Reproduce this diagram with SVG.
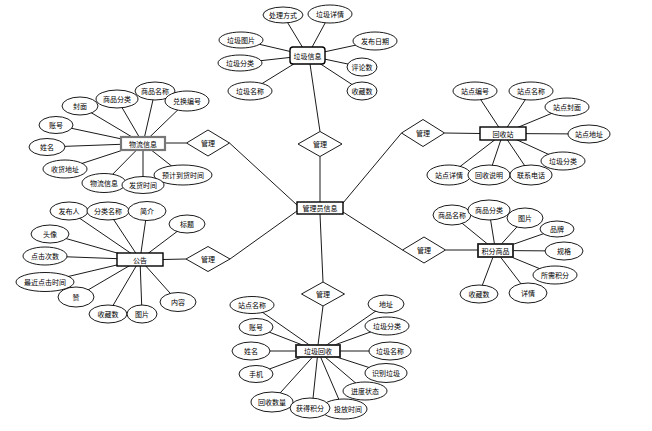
<svg xmlns="http://www.w3.org/2000/svg" width="652" height="431" viewBox="0 0 652 431">
<style>
.bg{fill:#fff}
line{stroke:#000;stroke-width:0.9}
ellipse{fill:#fff;stroke:#000;stroke-width:0.9}
.ent{fill:#fff;stroke:#000;stroke-width:1.4}
.ent2{fill:#fff;stroke:#777;stroke-width:2.2}
.ent3{fill:#fff;stroke:#222;stroke-width:1.8}
.rel{fill:#fff;stroke:#000;stroke-width:0.9}
text{font-family:"Noto Sans CJK SC","Noto Sans",sans-serif;font-size:7px;text-anchor:middle;dominant-baseline:central;fill:#000}
</style>
<rect class="bg" x="0" y="0" width="652" height="431"/>
<g id="connectors">
<line x1="310" y1="64" x2="320" y2="131.5"/>
<line x1="320" y1="156.5" x2="320" y2="202"/>
<line x1="165" y1="143" x2="186.5" y2="143"/>
<line x1="229.5" y1="143" x2="297" y2="205"/>
<line x1="163" y1="259.5" x2="186" y2="259"/>
<line x1="230" y1="259" x2="297" y2="211"/>
<line x1="480" y1="133.5" x2="444.5" y2="133"/>
<line x1="401.5" y1="133" x2="343" y2="203"/>
<line x1="478" y1="250" x2="445.5" y2="250"/>
<line x1="402.5" y1="250" x2="343" y2="212"/>
<line x1="320" y1="214" x2="323" y2="282"/>
<line x1="323" y1="306" x2="318" y2="345"/>
<line x1="283" y1="15" x2="307.5" y2="55.5"/>
<line x1="330" y1="14" x2="307.5" y2="55.5"/>
<line x1="241" y1="40" x2="307.5" y2="55.5"/>
<line x1="375" y1="41" x2="307.5" y2="55.5"/>
<line x1="240" y1="63" x2="307.5" y2="55.5"/>
<line x1="362" y1="67" x2="307.5" y2="55.5"/>
<line x1="250" y1="91" x2="307.5" y2="55.5"/>
<line x1="362" y1="91" x2="307.5" y2="55.5"/>
<line x1="80" y1="106" x2="143" y2="143.5"/>
<line x1="117" y1="99" x2="143" y2="143.5"/>
<line x1="155" y1="91" x2="143" y2="143.5"/>
<line x1="187" y1="101" x2="143" y2="143.5"/>
<line x1="56" y1="125" x2="143" y2="143.5"/>
<line x1="47" y1="147" x2="143" y2="143.5"/>
<line x1="65" y1="169" x2="143" y2="143.5"/>
<line x1="104" y1="183" x2="143" y2="143.5"/>
<line x1="143" y1="185" x2="143" y2="143.5"/>
<line x1="183" y1="175" x2="143" y2="143.5"/>
<line x1="69" y1="211" x2="140" y2="259.5"/>
<line x1="108" y1="211" x2="140" y2="259.5"/>
<line x1="147" y1="211" x2="140" y2="259.5"/>
<line x1="187" y1="224" x2="140" y2="259.5"/>
<line x1="50" y1="234" x2="140" y2="259.5"/>
<line x1="45" y1="256" x2="140" y2="259.5"/>
<line x1="45" y1="282" x2="140" y2="259.5"/>
<line x1="76" y1="297" x2="140" y2="259.5"/>
<line x1="108" y1="314" x2="140" y2="259.5"/>
<line x1="142" y1="314" x2="140" y2="259.5"/>
<line x1="178" y1="302" x2="140" y2="259.5"/>
<line x1="475" y1="91" x2="503" y2="133.5"/>
<line x1="531" y1="91" x2="503" y2="133.5"/>
<line x1="567" y1="107" x2="503" y2="133.5"/>
<line x1="589" y1="134" x2="503" y2="133.5"/>
<line x1="563" y1="161" x2="503" y2="133.5"/>
<line x1="449" y1="175" x2="503" y2="133.5"/>
<line x1="489" y1="175" x2="503" y2="133.5"/>
<line x1="531" y1="175" x2="503" y2="133.5"/>
<line x1="452" y1="215" x2="495.5" y2="250.5"/>
<line x1="489" y1="210" x2="495.5" y2="250.5"/>
<line x1="525" y1="218" x2="495.5" y2="250.5"/>
<line x1="557" y1="229" x2="495.5" y2="250.5"/>
<line x1="564" y1="251" x2="495.5" y2="250.5"/>
<line x1="555" y1="275" x2="495.5" y2="250.5"/>
<line x1="528" y1="293" x2="495.5" y2="250.5"/>
<line x1="479" y1="294" x2="495.5" y2="250.5"/>
<line x1="252" y1="305" x2="318" y2="351"/>
<line x1="256" y1="327" x2="318" y2="351"/>
<line x1="251" y1="351" x2="318" y2="351"/>
<line x1="256" y1="374" x2="318" y2="351"/>
<line x1="272" y1="402" x2="318" y2="351"/>
<line x1="312" y1="408" x2="318" y2="351"/>
<line x1="343" y1="409" x2="318" y2="351"/>
<line x1="365" y1="391" x2="318" y2="351"/>
<line x1="386" y1="373" x2="318" y2="351"/>
<line x1="390" y1="351" x2="318" y2="351"/>
<line x1="387" y1="326" x2="318" y2="351"/>
<line x1="386" y1="304" x2="318" y2="351"/>
</g>
<g id="rel-top"><polygon class="rel" points="298,144 320,131.5 342,144 320,156.5"/><text x="320" y="144">管理</text></g>
<g id="rel-wl"><polygon class="rel" points="186.5,143 208,130 229.5,143 208,156"/><text x="208" y="143">管理</text></g>
<g id="rel-gg"><polygon class="rel" points="186,259 208,246.5 230,259 208,271.5"/><text x="208" y="259">管理</text></g>
<g id="rel-hsz"><polygon class="rel" points="401.5,133 423,119.5 444.5,133 423,146.5"/><text x="423" y="133">管理</text></g>
<g id="rel-jf"><polygon class="rel" points="402.5,250 424,237 445.5,250 424,263"/><text x="424" y="250">管理</text></g>
<g id="rel-bottom"><polygon class="rel" points="301.5,294 323,282 344.5,294 323,306"/><text x="323" y="294">管理</text></g>
<g id="lj-a1"><ellipse cx="283" cy="15" rx="20" ry="8"/><text x="283" y="15">处理方式</text></g>
<g id="lj-a2"><ellipse cx="330" cy="14" rx="22" ry="9"/><text x="330" y="14">垃圾详情</text></g>
<g id="lj-a3"><ellipse cx="241" cy="40" rx="22" ry="8"/><text x="241" y="40">垃圾图片</text></g>
<g id="lj-a4"><ellipse cx="375" cy="41" rx="22" ry="9"/><text x="375" y="41">发布日期</text></g>
<g id="lj-a5"><ellipse cx="240" cy="63" rx="22" ry="8"/><text x="240" y="63">垃圾分类</text></g>
<g id="lj-a6"><ellipse cx="362" cy="67" rx="15" ry="9"/><text x="362" y="67">评论数</text></g>
<g id="lj-a7"><ellipse cx="250" cy="91" rx="22" ry="9"/><text x="250" y="91">垃圾名称</text></g>
<g id="lj-a8"><ellipse cx="362" cy="91" rx="15" ry="9"/><text x="362" y="91">收藏数</text></g>
<g id="wl-a1"><ellipse cx="80" cy="106" rx="18" ry="9"/><text x="80" y="106">封面</text></g>
<g id="wl-a2"><ellipse cx="117" cy="99" rx="21" ry="9"/><text x="117" y="99">商品分类</text></g>
<g id="wl-a3"><ellipse cx="155" cy="91" rx="20" ry="9"/><text x="155" y="91">商品名称</text></g>
<g id="wl-a4"><ellipse cx="187" cy="101" rx="22" ry="10"/><text x="187" y="101">兑换编号</text></g>
<g id="wl-a5"><ellipse cx="56" cy="125" rx="17" ry="8.5"/><text x="56" y="125">账号</text></g>
<g id="wl-a6"><ellipse cx="47" cy="147" rx="18" ry="8.5"/><text x="47" y="147">姓名</text></g>
<g id="wl-a7"><ellipse cx="65" cy="169" rx="22" ry="9"/><text x="65" y="169">收货地址</text></g>
<g id="wl-a10"><ellipse cx="183" cy="175" rx="29" ry="10"/><text x="183" y="175">预计到货时间</text></g>
<g id="wl-a8"><ellipse cx="104" cy="183" rx="22" ry="9.5"/><text x="104" y="183">物流信息</text></g>
<g id="wl-a9"><ellipse cx="143" cy="185" rx="21" ry="8.5"/><text x="143" y="185">发货时间</text></g>
<g id="gg-a1"><ellipse cx="69" cy="211" rx="19" ry="9"/><text x="69" y="211">发布人</text></g>
<g id="gg-a2"><ellipse cx="108" cy="211" rx="21" ry="9"/><text x="108" y="211">分类名称</text></g>
<g id="gg-a3"><ellipse cx="147" cy="211" rx="19" ry="9.5"/><text x="147" y="211">简介</text></g>
<g id="gg-a4"><ellipse cx="187" cy="224" rx="18" ry="9"/><text x="187" y="224">标题</text></g>
<g id="gg-a5"><ellipse cx="50" cy="234" rx="19" ry="9"/><text x="50" y="234">头像</text></g>
<g id="gg-a6"><ellipse cx="45" cy="256" rx="22" ry="9"/><text x="45" y="256">点击次数</text></g>
<g id="gg-a7"><ellipse cx="45" cy="282" rx="29" ry="9.5"/><text x="45" y="282">最近点击时间</text></g>
<g id="gg-a8"><ellipse cx="76" cy="297" rx="18" ry="10"/><text x="76" y="297">赞</text></g>
<g id="gg-a9"><ellipse cx="108" cy="314" rx="19" ry="9"/><text x="108" y="314">收藏数</text></g>
<g id="gg-a10"><ellipse cx="142" cy="314" rx="15" ry="9"/><text x="142" y="314">图片</text></g>
<g id="gg-a11"><ellipse cx="178" cy="302" rx="18" ry="9.5"/><text x="178" y="302">内容</text></g>
<g id="hsz-a1"><ellipse cx="475" cy="91" rx="22" ry="9"/><text x="475" y="91">站点编号</text></g>
<g id="hsz-a2"><ellipse cx="531" cy="91" rx="22" ry="9"/><text x="531" y="91">站点名称</text></g>
<g id="hsz-a3"><ellipse cx="567" cy="107" rx="22" ry="9"/><text x="567" y="107">站点封面</text></g>
<g id="hsz-a4"><ellipse cx="589" cy="134" rx="21" ry="9"/><text x="589" y="134">站点地址</text></g>
<g id="hsz-a5"><ellipse cx="563" cy="161" rx="22" ry="9"/><text x="563" y="161">垃圾分类</text></g>
<g id="hsz-a6"><ellipse cx="449" cy="175" rx="22" ry="10"/><text x="449" y="175">站点详情</text></g>
<g id="hsz-a7"><ellipse cx="489" cy="175" rx="21" ry="10"/><text x="489" y="175">回收说明</text></g>
<g id="hsz-a8"><ellipse cx="531" cy="175" rx="21" ry="10"/><text x="531" y="175">联系电话</text></g>
<g id="jf-a1"><ellipse cx="452" cy="215" rx="19" ry="10"/><text x="452" y="215">商品名称</text></g>
<g id="jf-a3"><ellipse cx="525" cy="218" rx="18" ry="10"/><text x="525" y="218">图片</text></g>
<g id="jf-a2"><ellipse cx="489" cy="210" rx="21" ry="10"/><text x="489" y="210">商品分类</text></g>
<g id="jf-a4"><ellipse cx="557" cy="229" rx="17" ry="8"/><text x="557" y="229">品牌</text></g>
<g id="jf-a5"><ellipse cx="564" cy="251" rx="19" ry="9"/><text x="564" y="251">规格</text></g>
<g id="jf-a6"><ellipse cx="555" cy="275" rx="22" ry="9"/><text x="555" y="275">所需积分</text></g>
<g id="jf-a7"><ellipse cx="528" cy="293" rx="19" ry="10"/><text x="528" y="293">详情</text></g>
<g id="jf-a8"><ellipse cx="479" cy="294" rx="19" ry="9"/><text x="479" y="294">收藏数</text></g>
<g id="hs-a1"><ellipse cx="252" cy="305" rx="22" ry="8.5"/><text x="252" y="305">站点名称</text></g>
<g id="hs-a2"><ellipse cx="256" cy="327" rx="17" ry="8.5"/><text x="256" y="327">账号</text></g>
<g id="hs-a3"><ellipse cx="251" cy="351" rx="19" ry="9"/><text x="251" y="351">姓名</text></g>
<g id="hs-a4"><ellipse cx="256" cy="374" rx="17" ry="8.5"/><text x="256" y="374">手机</text></g>
<g id="hs-a5"><ellipse cx="272" cy="402" rx="21" ry="10"/><text x="272" y="402">回收数量</text></g>
<g id="hs-a7"><ellipse cx="344" cy="409" rx="23" ry="10"/><text x="348" y="409">投放时间</text></g>
<g id="hs-a6"><ellipse cx="310" cy="408" rx="20" ry="10"/><text x="310" y="408">获得积分</text></g>
<g id="hs-a8"><ellipse cx="365" cy="391" rx="22" ry="9"/><text x="365" y="391">进度状态</text></g>
<g id="hs-a9"><ellipse cx="386" cy="373" rx="21" ry="9.5"/><text x="386" y="373">识别垃圾</text></g>
<g id="hs-a10"><ellipse cx="390" cy="351" rx="21" ry="9"/><text x="390" y="351">垃圾名称</text></g>
<g id="hs-a11"><ellipse cx="387" cy="326" rx="22" ry="9"/><text x="387" y="326">垃圾分类</text></g>
<g id="hs-a12"><ellipse cx="386" cy="304" rx="18" ry="9"/><text x="386" y="304">地址</text></g>
<g id="e-admin"><rect class="ent" x="297" y="202" width="46" height="12"/><text x="320" y="208">管理员信息</text></g>
<g id="e-lajixinxi"><rect class="ent" x="290" y="47" width="35" height="17" rx="3"/><text x="307.5" y="55.5">垃圾信息</text></g>
<g id="e-wuliu"><rect class="ent2" x="121" y="137" width="44" height="13"/><text x="143" y="143.5">物流信息</text></g>
<g id="e-gonggao"><rect class="ent" x="117" y="253" width="46" height="13"/><text x="140" y="259.5">公告</text></g>
<g id="e-huishouzhan"><rect class="ent" x="480" y="127" width="46" height="13"/><text x="503" y="133.5">回收站</text></g>
<g id="e-jifen"><rect class="ent3" x="478" y="244" width="35" height="13"/><text x="495.5" y="250.5">积分商品</text></g>
<g id="e-lajihuishou"><rect class="ent3" x="296" y="345" width="44" height="12"/><text x="318" y="351">垃圾回收</text></g>
</svg>
